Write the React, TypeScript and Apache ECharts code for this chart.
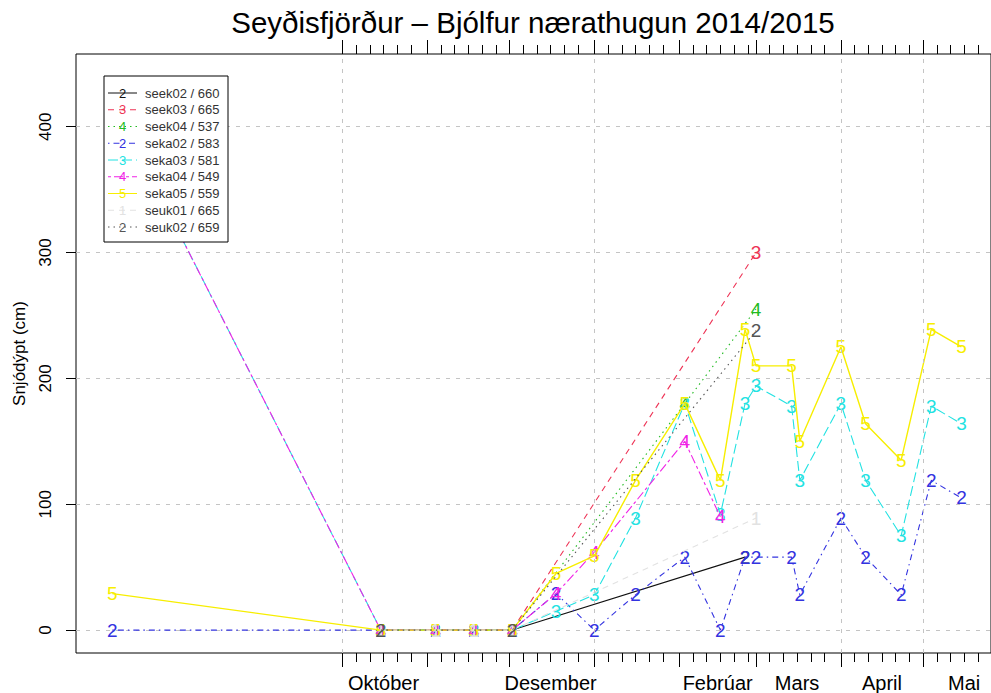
import React, { useEffect, useRef } from 'react';
import * as echarts from 'echarts';

// ---- data ----
const dates = [
  '2014-07-09', '2014-10-15', '2014-11-04', '2014-11-18', '2014-12-02',
  '2014-12-18', '2015-01-01', '2015-01-16', '2015-02-03', '2015-02-16',
  '2015-02-25', '2015-03-01', '2015-03-14', '2015-03-17', '2015-04-01',
  '2015-04-10', '2015-04-23', '2015-05-04', '2015-05-15',
];
const N = null;
const seek02 = [N, 0, 0, 0, 0, N, N, N, N, N, 58, N, N, N, N, N, N, N, N];
const seek03 = [N, 0, 0, 0, 0, N, N, N, N, N, N, 300, N, N, N, N, N, N, N];
const seek04 = [N, 0, 0, 0, 0, N, N, N, 180, N, N, 255, N, N, N, N, N, N, N];
const seka02 = [0, 0, 0, 0, 0, 29, 0, 28, 58, 0, 58, 58, 58, 28, 89, 58, 28, 119, 105];
const seka03 = [420, 0, 0, 0, 0, 15, 28, 89, 180, 92, 180, 194, 178, 119, 180, 119, 75, 178, 164];
const seka04 = [420, 0, 0, 0, 0, 29, 62, N, 150, 90, N, N, N, N, N, N, N, N, N];
const seka05 = [29, 0, 0, 0, 0, 45, 59, 119, 180, 119, 239, 210, 210, 150, 225, 164, 135, 239, 225];
const seuk01 = [N, 0, 0, 0, 0, N, N, N, N, N, N, 89, N, N, N, N, N, N, N];
const seuk02 = [N, 0, N, N, 0, N, N, N, N, N, N, 238, N, N, N, N, N, N, N];

const seriesValues = [seek02, seek03, seek04, seka02, seka03, seka04, seka05, seuk01, seuk02];
const seriesNames = [
  'seek02 / 660', 'seek03 / 665', 'seek04 / 537', 'seka02 / 583', 'seka03 / 581',
  'seka04 / 549', 'seka05 / 559', 'seuk01 / 665', 'seuk02 / 659',
];
const seriesSymbols = ['2', '3', '4', '2', '3', '4', '5', '1', '2'];
const seriesColors = ['#111111', '#EE3355', '#22BB22', '#3333E0', '#22E2E2', '#F022E6', '#F7EE00', '#E2E2E2', '#555555'];
const seriesDash: any[] = ['solid', [6, 5], [1.5, 4], [1.5, 4, 6, 4], [10, 4], [3, 3, 9, 3], 'solid', [6, 5], [1.5, 4]];

const monthLabels = ['Október', 'Desember', 'Febrúar', 'Mars', 'April', 'Mai'];
const monthLabelDates = ['2014-10-16', '2014-12-16', '2015-02-15', '2015-03-16', '2015-04-16', '2015-05-16'];
const tickMonths = [[2014, 10], [2014, 11], [2014, 12], [2015, 1], [2015, 2], [2015, 3], [2015, 4], [2015, 5]];
const minorTickDays = [6, 11, 16, 21, 26];
const gridLineDates = ['2014-10-01', '2015-01-01', '2015-04-01', '2015-05-01'];
const yTicks = [0, 100, 200, 300, 400];

const TITLE = 'Seyðisfjörður – Bjólfur nærathugun 2014/2015';
const FONT = '"Liberation Sans", Arial, Helvetica, sans-serif';

const DAY = 86400000;
// x values are days since 2014-10-01
function dayNum(y: number, m: number, d: number): number {
  return Math.round((Date.UTC(y, m - 1, d) - Date.UTC(2014, 9, 1)) / DAY);
}
function dn(s: string): number {
  const [y, m, d] = s.split('-').map(Number);
  return dayNum(y, m, d);
}

export default function App() {
  const ref = useRef<HTMLDivElement>(null);
  useEffect(() => {
    if (!ref.current) return;
    const chart = echarts.init(ref.current, undefined, { renderer: 'svg' });

    const xMin = -97.27;
    const xMax = 236.8;

    const majorTicks: number[] = tickMonths.map(([y, m]) => dayNum(y, m, 1));
    const minorTicks: number[] = [];
    tickMonths.forEach(([y, m]) => minorTickDays.forEach((d) => minorTicks.push(dayNum(y, m, d))));
    const labelPos = monthLabelDates.map(dn);

    const baseX = (extra: any) => ({
      type: 'value',
      min: xMin,
      max: xMax,
      axisLine: { show: false, onZero: false },
      splitLine: { show: false },
      ...extra,
    });

    const xAxes = [
      baseX({
        position: 'bottom',
        axisTick: { show: true, length: 14, customValues: majorTicks, lineStyle: { color: '#000', width: 1 } },
        axisLabel: {
          show: true,
          customValues: labelPos,
          margin: 20,
          fontSize: 20,
          color: '#000',
          fontFamily: FONT,
          formatter: (v: number) => {
            const i = labelPos.findIndex((t) => Math.abs(t - v) < 0.5);
            return i >= 0 ? monthLabels[i] : '';
          },
        },
      }),
      baseX({
        position: 'bottom',
        axisTick: { show: true, length: 9, customValues: minorTicks, lineStyle: { color: '#000', width: 1 } },
        axisLabel: { show: false },
      }),
      baseX({
        position: 'top',
        axisTick: { show: true, length: 14, customValues: majorTicks, lineStyle: { color: '#000', width: 1 } },
        axisLabel: { show: false },
      }),
      baseX({
        position: 'top',
        axisTick: { show: true, length: 9, customValues: minorTicks, lineStyle: { color: '#000', width: 1 } },
        axisLabel: { show: false },
      }),
    ];

    const series: any[] = seriesValues.map((vals, si) => {
      const data = dates
        .map((d, i) => (vals[i] === null ? null : [dn(d), vals[i]]))
        .filter((p) => p !== null);
      const s: any = {
        type: 'line',
        name: seriesNames[si],
        xAxisIndex: 0,
        yAxisIndex: 0,
        data,
        symbol: 'circle',
        symbolSize: 1,
        showSymbol: true,
        itemStyle: { color: 'rgba(0,0,0,0)' },
        lineStyle: { color: seriesColors[si], width: si === 6 ? 1.4 : 1.1, type: seriesDash[si] },
        label: {
          show: true,
          position: 'inside',
          formatter: seriesSymbols[si],
          color: seriesColors[si],
          fontSize: 19,
          fontFamily: FONT,
        },
        emphasis: { disabled: true },
        silent: true,
        z: 2 + si * 0.01,
      };
      if (si === 0) {
        s.markLine = {
          silent: true,
          symbol: ['none', 'none'],
          label: { show: false },
          lineStyle: { color: '#C4C4C4', type: [4, 6], width: 1 },
          emphasis: { disabled: true },
          data: gridLineDates.map((d) => ({ xAxis: dn(d) })),
        };
      }
      return s;
    });

    // legend drawn as graphic (digits as symbols like the original)
    const lgX = 104, lgY = 76, lgW = 124, lgH = 166, rowH = 16.75, row0 = 93;
    const legendEls: any[] = [
      { type: 'rect', z: 100, shape: { x: lgX, y: lgY, width: lgW, height: lgH }, style: { fill: '#fff', stroke: '#000', lineWidth: 1 } },
    ];
    seriesNames.forEach((name, i) => {
      const y = row0 + i * rowH;
      legendEls.push({
        type: 'line',
        z: 101,
        shape: { x1: 108, y1: y, x2: 137, y2: y },
        style: { stroke: seriesColors[i], lineWidth: 1, lineDash: seriesDash[i] === 'solid' ? null : seriesDash[i] },
      });
      legendEls.push({
        type: 'text',
        z: 102,
        x: 122.5,
        y,
        style: { text: seriesSymbols[i], fill: seriesColors[i], fontSize: 13, fontFamily: FONT, align: 'center', verticalAlign: 'middle' },
      });
      legendEls.push({
        type: 'text',
        z: 102,
        x: 145,
        y,
        style: { text: name, fill: '#333', fontSize: 13, fontFamily: FONT, align: 'left', verticalAlign: 'middle' },
      });
    });

    chart.setOption({
      animation: false,
      backgroundColor: '#fff',
      grid: { left: 76, top: 54, right: -2, bottom: 38, show: true, borderColor: '#000', borderWidth: 1, backgroundColor: 'transparent' },
      xAxis: xAxes,
      yAxis: {
        type: 'value',
        min: -18.2,
        max: 457.8,
        axisLine: { show: false, onZero: false },
        axisTick: { show: true, length: 10, customValues: yTicks, lineStyle: { color: '#000' } },
        axisLabel: { show: true, customValues: yTicks, rotate: 90, margin: 22, fontSize: 17, color: '#000', fontFamily: FONT },
        splitLine: { show: true, lineStyle: { color: '#C4C4C4', type: [4, 6], width: 1 } },
        name: 'Snjódýpt (cm)',
        nameLocation: 'middle',
        nameGap: 48,
        nameTextStyle: { fontSize: 17, color: '#000', fontFamily: FONT },
      },
      series,
      graphic: [
        {
          type: 'text',
          x: 533,
          y: 22,
          z: 100,
          style: { text: TITLE, fill: '#000', fontSize: 29.5, fontFamily: FONT, align: 'center', verticalAlign: 'middle' },
        },
        ...legendEls,
      ],
    });

    return () => chart.dispose();
  }, []);

  return <div ref={ref} style={{ position: 'fixed', left: 0, top: 0, width: 991, height: 693 }} />;
}
